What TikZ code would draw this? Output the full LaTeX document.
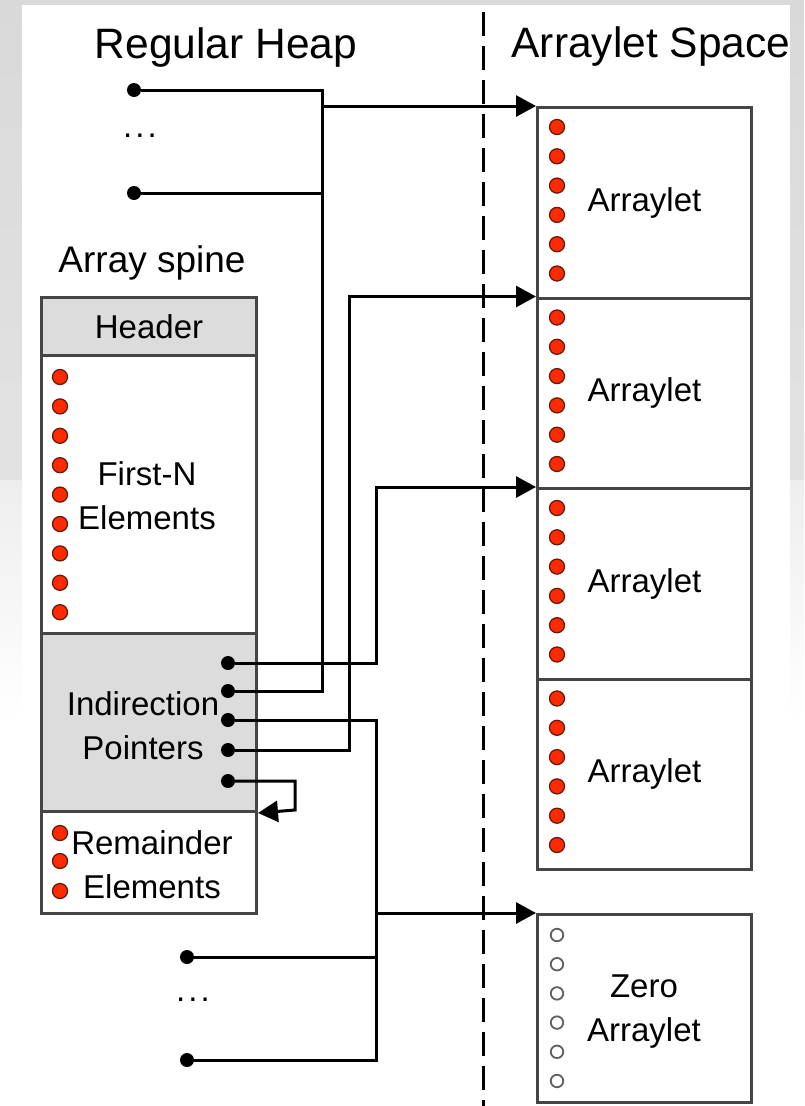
\documentclass[tikz,border=0pt]{standalone}
\usepackage{fontspec}
\setmainfont{Liberation Sans}
\usetikzlibrary{arrows.meta}
\definecolor{boxgray}{HTML}{DCDCDC}
\definecolor{edgecol}{HTML}{454545}
\definecolor{dotred}{HTML}{FF2A00}
\definecolor{dotrim}{HTML}{6A1A0A}
\definecolor{bggray}{HTML}{D9D9D9}
\definecolor{zerocol}{HTML}{606060}
\begin{document}
\begin{tikzpicture}[x=1pt,y=-1pt,
  cell/.style={draw=edgecol,line width=3pt,minimum width=215pt,inner sep=0pt,anchor=north west,
    font=\fontsize{33}{44}\selectfont},
  albox/.style={draw=edgecol,line width=3pt,minimum width=214pt,inner sep=0pt,anchor=north west,
    font=\fontsize{33}{44}\selectfont,align=center},
  lbl/.style={font=\fontsize{33}{44}\selectfont,align=center,inner sep=0pt},
  ttl/.style={font=\fontsize{42.5}{48}\selectfont,inner sep=0pt},
  reddot/.style={circle,fill=dotred,draw=dotrim,line width=1.3pt,minimum size=15pt,inner sep=0pt},
  ptr/.style={circle,fill=black,minimum size=14pt,inner sep=0pt},
  zdot/.style={circle,draw=zerocol,line width=1.8pt,fill=white,minimum size=12.5pt,inner sep=0pt},
  ell/.style={font=\fontsize{33}{44}\selectfont,inner sep=0pt,anchor=base},
  wire/.style={line width=3pt,black},
  arr/.style={-{Triangle[length=20pt,width=21pt]}},
  divider/.style={line width=3pt,black,dash pattern=on 24pt off 10pt,dash phase=27pt}
]
% background
\fill[white] (0,0) rectangle (804,1106);
\shade[top color=bggray,bottom color=bggray!75] (0,0) rectangle (804,480);
\shade[top color=bggray!45,bottom color=white] (0,480) rectangle (804,720);
\fill[white] (22,5) rectangle (790,1106);
\useasboundingbox (0,0) rectangle (804,1106);

% titles
\node[ttl] (rh) at (226,48) {Regular Heap};
\node[ttl] (as) at (651,47) {Arraylet Space};
\node[font=\fontsize{37}{44}\selectfont,inner sep=0pt] (asp) at (152,263) {Array spine};

% divider
\coordinate (dtop) at (483,5);
\coordinate (dbot) at (483,1106);
\draw[divider] (dtop) -- (dbot);

% array spine
\node[cell,fill=boxgray,minimum height=58pt] (hdr) at (40,296) {Header};
\node[cell,fill=white,minimum height=278pt] (fn) at (40,354) {};
\node[cell,fill=boxgray,minimum height=178pt] (ind) at (40,632) {};
\node[cell,fill=white,minimum height=102pt] (rem) at (40,810) {};
\node[lbl] (fnt) at (147,496) {First-N\\Elements};
\node[lbl] (indt) at (143,726) {Indirection\\Pointers};
\node[lbl] (remt) at (152,865) {Remainder\\Elements};
\foreach \k in {0,...,8} \node[reddot] (fd\k) at (60,{377+\k*29.4}) {};
\node[reddot] (rd0) at (60,833) {};
\node[reddot] (rd1) at (60,861) {};
\node[reddot] (rd2) at (60,891) {};

% arraylets
\foreach \i/\t in {1/106,2/296.5,3/487,4/677.5} {
  \node[albox,minimum height=190.5pt] (a\i) at (536,\t) {Arraylet};
  \foreach \k in {0,...,5} \node[reddot] (a\i d\k) at (557,{\t+21+\k*29.3}) {};
}
\node[albox,minimum height=188pt] (z) at (536,913) {};
\node[lbl] (zt) at (644,1012) {Zero\\Arraylet};
\foreach \k in {0,...,5} \node[zdot] (zd\k) at (557,{935+\k*29.2}) {};

% heap pointers
\node[ptr] (h1) at (134,90) {};
\node[ptr] (h2) at (134,193) {};
\node[ell] (hdots) at (140,137) {.\kern3pt.\kern3pt.};
\node[ptr] (b1) at (187,957) {};
\node[ptr] (b2) at (187,1060) {};
\node[ell] (bdots) at (193,1001) {.\kern3pt.\kern3pt.};

% indirection pointers
\node[ptr] (p1) at (228,663) {};
\node[ptr] (p2) at (228,691) {};
\node[ptr] (p3) at (228,720) {};
\node[ptr] (p4) at (228,750) {};
\node[ptr] (p5) at (228,781) {};

% junction coordinates
\coordinate (t1) at (322,90);
\coordinate (t2) at (322,106);
\coordinate (t3) at (376,487);
\coordinate (t4) at (349,296.5);
\coordinate (t5) at (376,1060);
\coordinate (t6) at (376,913);
\coordinate (t7) at (295,810);

% connectors
\draw[wire] (p2) -| (t1) -- (h1);
\draw[wire] (h2) -- (h2 -| t1);
\draw[wire,arr] (t2) -- (a1.north west);
\draw[wire,arr] (p1) -| (t3) -- (a3.north west);
\draw[wire,arr] (p4) -| (t4) -- (a2.north west);
\draw[wire] (p3) -| (t5) -- (b2);
\draw[wire] (b1) -- (b1 -| t5);
\draw[wire,arr] (t6) -- (z.north west);
\draw[wire,arr] (p5) -| (t7) -- (ind.south east);
\end{tikzpicture}
\end{document}
